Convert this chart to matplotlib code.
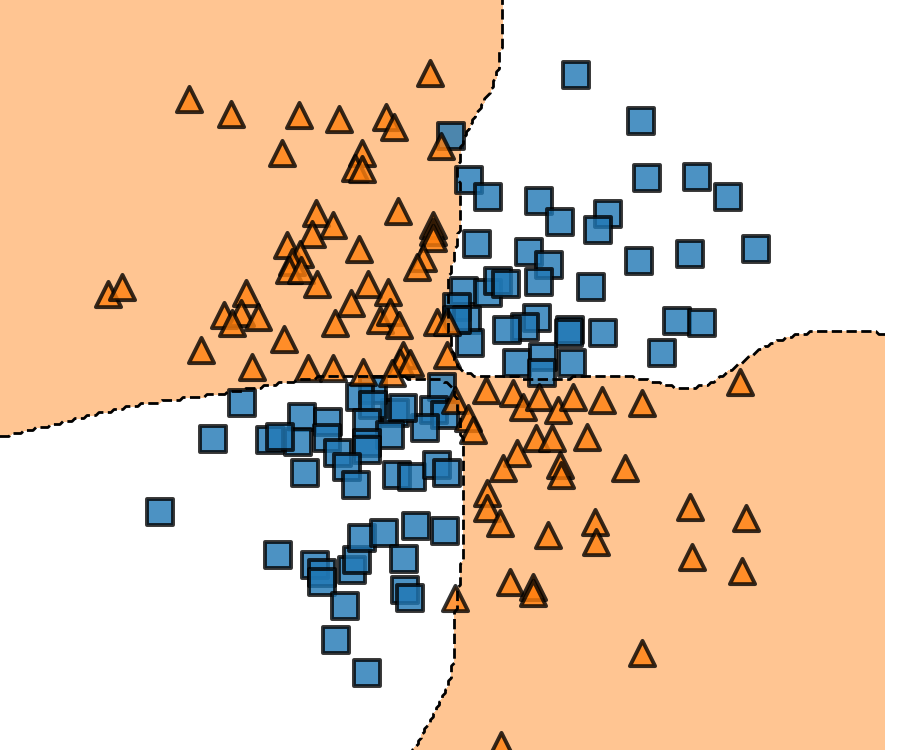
import numpy as np
import matplotlib
matplotlib.use('Agg')
import matplotlib.pyplot as plt

# class 0 (blue squares)
x0 = [1.34, 1.99, 0.09, 0.27, 0.46, 0.97, 1.18, 1.66, 1.56, 2.05, 2.55, 2.86,
      0.35, 0.87, 1.07, 0.97, 1.49, 1.97, 2.48, 3.14, 0.22, 0.46, 0.56, 0.64,
      0.15, 0.25, 0.28, 0.15, 0.95, 0.83, 0.65, 1.28, 1.27, 1.61, 2.35, 2.60,
      2.20, 0.75, 1.01, 1.30, 1.00, 0.00, -0.08, 0.03, -0.17, -0.47, -0.39,
      -0.69, -0.82, -0.69, -0.75, -0.52, -2.00, -2.29, -2.82, -1.40, -1.14,
      -1.72, -1.44, -1.62, -1.15, -1.04, -0.75, -0.75, -0.95, -0.86, -1.37,
      -0.45, -0.30, -0.05, 0.05, -1.64, -1.27, -1.20, -1.20, -0.90, -0.85,
      -0.80, -0.58, -0.26, 0.03, -0.38, -0.37, -0.32, -0.97, -1.06, -0.75]
y0 = [3.00, 2.54, 2.39, 1.95, 1.78, 1.74, 1.53, 1.61, 1.45, 1.97, 1.98, 1.78,
      1.31, 1.23, 1.10, 0.93, 0.88, 1.14, 1.21, 1.26, 0.84, 0.82, 0.94, 0.91,
      0.68, 0.55, 0.32, 0.55, 0.57, 0.48, 0.45, 0.45, 0.42, 0.42, 0.54, 0.52,
      0.22, 0.12, 0.18, 0.12, 0.02, -0.12, -0.35, -0.40, -0.53, -0.38, -0.33,
      -0.15, -0.22, -0.30, -0.48, -0.60, -0.28, -0.64, -1.37, -0.42, -0.47,
      -0.65, -0.67, -0.62, -0.63, -0.78, -0.68, -0.75, -0.92, -1.10, -0.98,
      -1.00, -1.02, -0.90, -0.98, -1.80, -1.90, -1.98, -2.07, -1.95, -1.85,
      -1.63, -1.58, -1.51, -1.56, -1.84, -2.15, -2.23, -2.31, -2.65, -2.98]

# class 1 (orange triangles)
x1 = [-0.12, -2.53, -2.11, -1.43, -1.03, -0.56, -0.48, -0.01, -1.60, -0.80,
      -0.87, -0.80, -1.26, -0.44, -1.09, -1.30, -0.09, -0.09, -0.09, -1.55,
      -1.42, -0.83, -1.50, -1.53, -1.41, -0.19, -0.25, -3.34, -3.20, -1.25,
      -0.74, -0.54, -1.96, -0.91, -2.18, -2.01, -2.10, -1.84, -1.07, -0.62,
      -0.52, -0.43, -0.05, 0.05, -2.41, -1.58, -1.90, -1.34, -1.09, -0.79,
      -0.39, -0.42, -0.32, -0.50, 0.05, 0.44, 0.71, 0.81, 0.97, 1.16, 1.31,
      1.60, 2.00, 2.98, 0.13, 0.26, 0.31, 0.94, 1.10, 1.45, 0.75, 0.61, 1.18,
      1.19, 1.83, 0.45, 0.45, 0.58, 1.06, 1.53, 1.54, 2.48, 3.04, 2.50, 3.00,
      0.68, 0.91, 0.91, 0.13, 2.00, 0.59]
y1 = [3.02, 2.76, 2.61, 2.60, 2.56, 2.58, 2.48, 2.29, 2.22, 2.22, 2.07, 2.06,
      1.62, 1.64, 1.50, 1.41, 1.50, 1.43, 1.37, 1.30, 1.21, 1.26, 1.13, 1.05,
      1.05, 1.17, 1.08, 0.81, 0.88, 0.91, 0.91, 0.83, 0.82, 0.72, 0.60, 0.62,
      0.52, 0.58, 0.52, 0.55, 0.63, 0.50, 0.53, 0.53, 0.25, 0.36, 0.08, 0.07,
      0.07, 0.03, 0.20, 0.12, 0.12, 0.02, 0.20, -0.15, -0.18, -0.32, -0.22,
      -0.35, -0.22, -0.25, -0.28, -0.07, -0.25, -0.43, -0.55, -0.63, -0.63,
      -0.62, -0.78, -0.93, -0.90, -1.00, -0.93, -1.18, -1.33, -1.48, -1.60,
      -1.47, -1.67, -1.32, -1.43, -1.82, -1.96, -2.07, -2.12, -2.18, -2.23,
      -2.78, -3.70]

xlim = (-4.42, 4.43)
ylim = (-3.75, 3.75)


def kernel_predict(xx, yy, h=0.45):
    """Gaussian kernel vote between the two classes on a grid."""
    s0 = np.zeros_like(xx)
    s1 = np.zeros_like(xx)
    for a, b in zip(x0, y0):
        s0 += np.exp(-((xx - a) ** 2 + (yy - b) ** 2) / (2 * h * h))
    for a, b in zip(x1, y1):
        s1 += np.exp(-((xx - a) ** 2 + (yy - b) ** 2) / (2 * h * h))
    return (s1 > s0).astype(int)


res = 0.03
xx, yy = np.meshgrid(np.arange(xlim[0], xlim[1] + res, res),
                     np.arange(ylim[0] - res, ylim[1] + res, res))
Z = kernel_predict(xx, yy)

fig = plt.figure(figsize=(9, 7.5), dpi=100)
ax = fig.add_axes([0, 0, 885 / 900, 1])
ax.contourf(xx, yy, Z, levels=[-0.5, 0.5, 1.5],
            colors=['white', '#ff7f0e'], alpha=0.45)
ax.contour(xx, yy, Z, levels=[0.5], colors='k', linestyles='--',
           linewidths=2)

ax.scatter(x0, y0, s=330, marker='s', c='#1f77b4', alpha=0.8,
           edgecolors='black', linewidths=2.8)
ax.scatter(x1, y1, s=330, marker='^', c='#ff7f0e', alpha=0.8,
           edgecolors='black', linewidths=2.8)

ax.set_xlim(*xlim)
ax.set_ylim(*ylim)
ax.axis('off')
fig.savefig('out.png', dpi=100)
